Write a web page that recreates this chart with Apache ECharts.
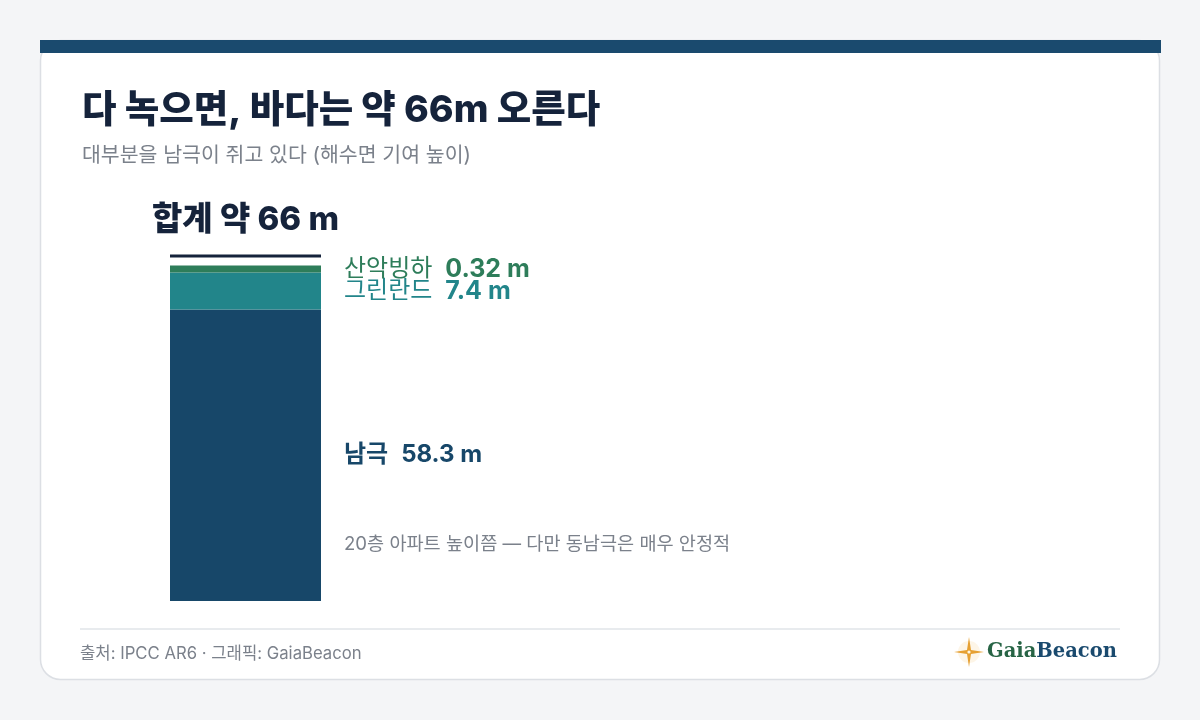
<!DOCTYPE html>
<html><head><meta charset="utf-8">
<script src="https://cdn.jsdelivr.net/npm/echarts@6/dist/echarts.min.js"></script>
<style>html,body{margin:0;padding:0;background:#f4f5f7}#c{width:1200px;height:720px}</style>
</head><body><div id="c"></div>
<script>
const categories = ['해수면 기여'];
const sourceNames = ['남극', '그린란드', '산악빙하'];
const sourceValues = [58.3, 7.4, 0.32];
const totalValue = 66;
const totalLabel = '합계 약 66 m';
const noteText = '20층 아파트 높이쯤 — 다만 동남극은 매우 안정적';

const colors = ['#174769', '#22858a', '#2e7d5a'];
const FONT = "Inter, 'Noto Sans CJK KR', sans-serif";
const chart = echarts.init(document.getElementById('c'));

function barSeries(i) {
  const bold = i === 0;
  return {
    type: 'bar', name: sourceNames[i], stack: 'all',
    data: [sourceValues[i]], barWidth: 151,
    barMinHeight: i === 2 ? 7 : 0,
    itemStyle: { color: colors[i] },
    animation: false,
    label: {
      show: true, position: 'right', distance: 23,
      formatter: '{n|' + sourceNames[i] + '}{v|' + sourceValues[i] + ' m}',
      rich: {
        n: { fontFamily: FONT, fontSize: 24, fontWeight: bold ? 'bold' : 'normal', color: colors[i] },
        v: { fontFamily: FONT, fontSize: bold ? 24 : 25, fontWeight: 'bold', color: colors[i], padding: [0, 0, 0, bold ? 13 : 13] }
      }
    }
  };
}

chart.setOption({
  animation: false,
  backgroundColor: '#f4f5f7',
  grid: { left: 170, width: 151, top: 201, height: 400 },
  xAxis: { type: 'category', data: categories, show: false },
  yAxis: { type: 'value', min: 0, max: 80, show: false },
  graphic: [
    { type: 'rect', z: -10, shape: { x: 40.5, y: 40.5, width: 1119, height: 639, r: 20 }, style: { fill: '#ffffff', stroke: '#dcdfe4', lineWidth: 1.5 } },
    { type: 'rect', z: -9, shape: { x: 40, y: 40, width: 1121, height: 13 }, style: { fill: '#1a4a6e' } },
    { type: 'text', x: 82, y: 111, style: { text: '다 녹으면, 바다는 약 66m 오른다', font: "800 37.5px " + FONT, fill: '#15233b', verticalAlign: 'middle' } },
    { type: 'text', x: 82, y: 156, style: { text: '대부분을 남극이 쥐고 있다 (해수면 기여 높이)', font: "20.5px " + FONT, fill: '#7b818b', verticalAlign: 'middle' } },
    { type: 'text', x: 344, y: 544, style: { text: noteText, font: "18.6px " + FONT, fill: '#7b818b', verticalAlign: 'middle' } },
    { type: 'line', shape: { x1: 80, y1: 629, x2: 1120, y2: 629 }, style: { stroke: '#e1e4e8', lineWidth: 1.5 } },
    { type: 'text', x: 80, y: 654, style: { text: '출처: IPCC AR6 · 그래픽: GaiaBeacon', font: "16.7px " + FONT, fill: '#7b818b', verticalAlign: 'middle' } },
    { type: 'circle', shape: { cx: 969, cy: 652, r: 11 }, style: { fill: 'rgba(240,170,60,0.12)' } },
    { type: 'polygon', shape: { points: [[969, 637], [971, 650], [984, 652], [971, 654], [969, 667], [967, 654], [954, 652], [967, 650]] }, style: { fill: '#e6a032' } },
    { type: 'circle', shape: { cx: 969, cy: 652, r: 1.6 }, style: { fill: '#fff6e0' } },
    { type: 'text', x: 987, y: 652, style: { rich: { g: { font: "bold 19.5px 'DejaVu Serif', serif", fill: '#276445' }, b: { font: "bold 19.5px 'DejaVu Serif', serif", fill: '#1a4a6e' } }, text: '{g|Gaia}{b|Beacon}', verticalAlign: 'middle' } }
  ],
  series: [
    barSeries(0), barSeries(1), barSeries(2),
    {
      type: 'custom', data: [[0, totalValue]], animation: false, z: 5,
      renderItem: function (params, api) {
        const p = api.coord([api.value(0), api.value(1)]);
        return { type: 'group', children: [
          { type: 'line', shape: { x1: p[0] - 75.5, y1: p[1] - 15, x2: p[0] + 75.5, y2: p[1] - 15 }, style: { stroke: '#15233b', lineWidth: 3 } },
          { type: 'text', x: p[0], y: p[1] - 51, style: { text: totalLabel, font: "800 33px " + FONT, fill: '#15233b', align: 'center', verticalAlign: 'middle' } }
        ] };
      }
    }
  ]
});
</script></body></html>
